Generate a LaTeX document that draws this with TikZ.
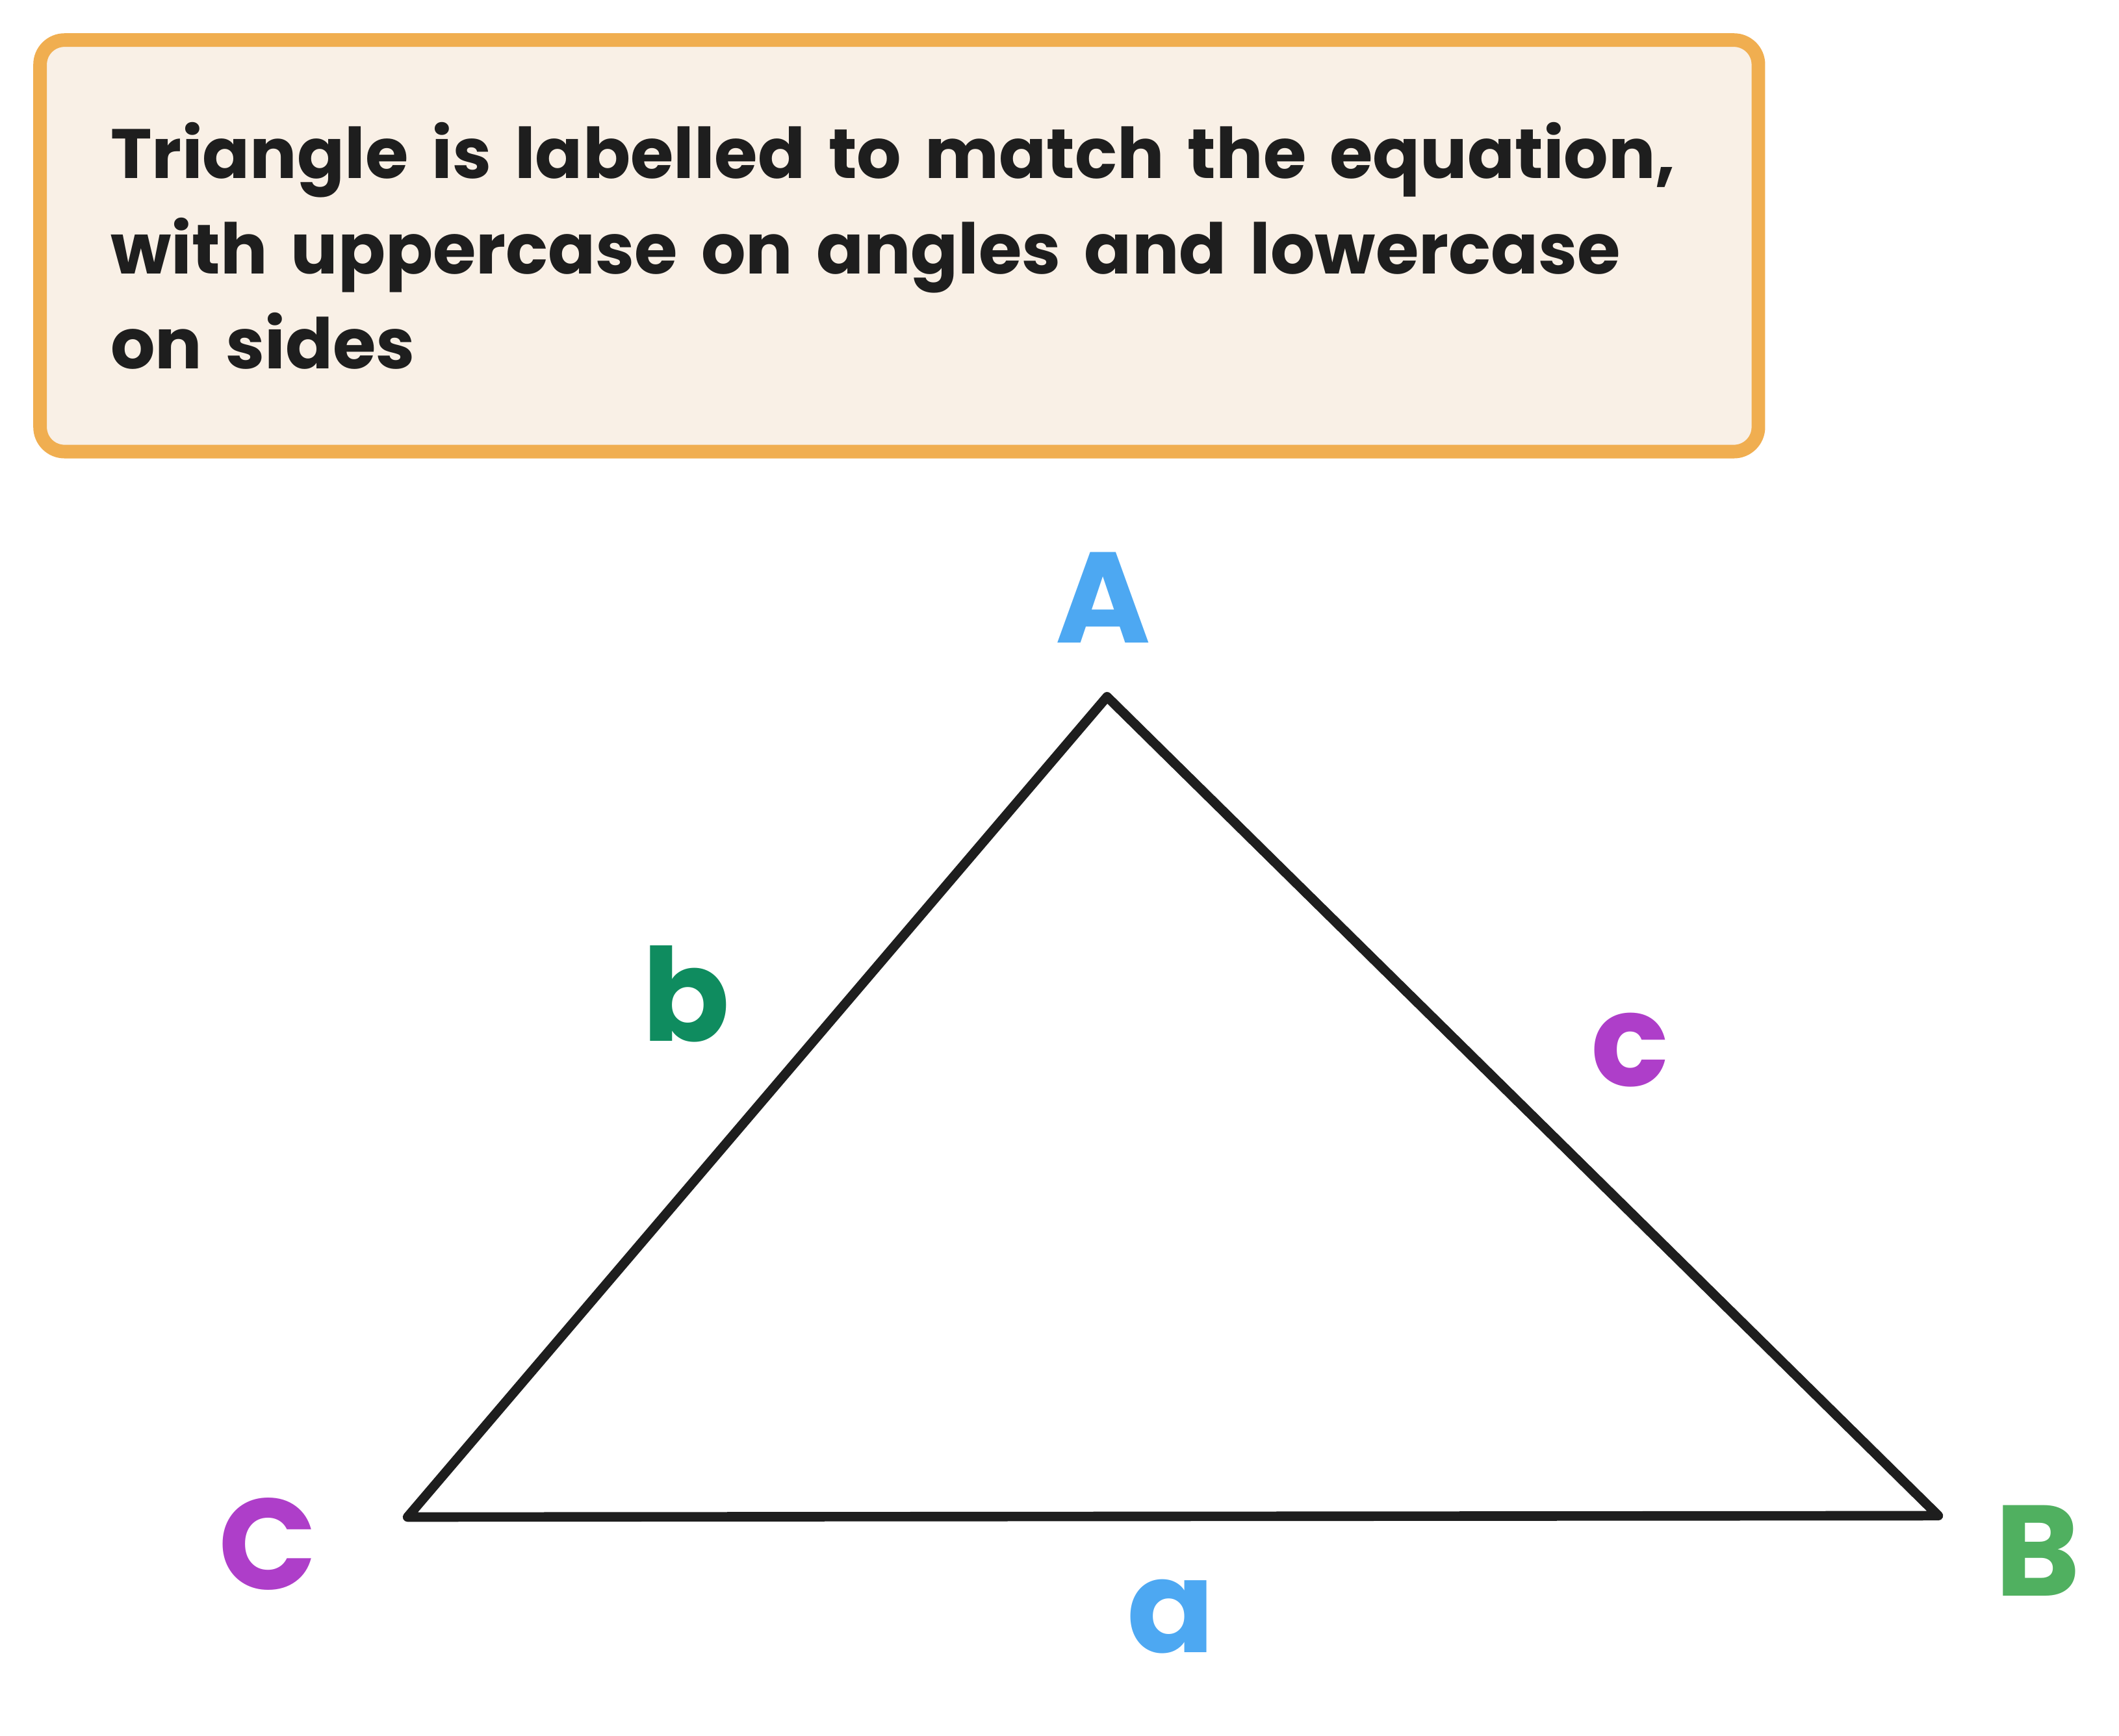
\documentclass[tikz,border=0pt]{standalone}
\usepackage{fontspec}
\setmainfont{Poppins}
\usepackage{tikz}
\usetikzlibrary{positioning}
\usetikzlibrary{calc}
\definecolor{notefill}{RGB}{249,240,230}
\definecolor{noteline}{RGB}{240,174,80}
\definecolor{ink}{RGB}{30,30,30}
\definecolor{angblue}{RGB}{77,168,242}
\definecolor{anggreen}{RGB}{80,176,96}
\definecolor{sidegreen}{RGB}{15,140,95}
\definecolor{purp}{RGB}{174,62,201}

\begin{document}
\begin{tikzpicture}[x=1pt,y=-1pt,line join=round,line cap=round,
	notebox/.style={draw=noteline,fill=notefill,line width=10pt,rounded corners=18pt,minimum width=1265pt,minimum height=303pt,inner sep=0pt,align=left,text width=1161pt,text=ink,font=\fontsize{51.5}{70}\selectfont\bfseries},
	side/.style={draw=ink,line width=7pt},
	lbl/.style={font=\fontsize{95}{95}\selectfont\bfseries}]
	\useasboundingbox (0,0) rectangle (1560,1278);
	\node[notebox]	(note)	at (662,181) {Triangle is labelled to match the equation,\\with uppercase on angles and lowercase\\on sides};
	\coordinate (ptA) at (815,513);
	\coordinate (ptB) at (1427,1116);
	\coordinate (ptC) at (300,1117);
	\draw[side] (ptC) -- (ptA) -- (ptB) -- cycle;
	\node[lbl,text=angblue]	(angA)	at (812,440) {A};
	\node[lbl,text=anggreen]	(angB)	at (1500,1142) {B};
	\node[lbl,text=purp]	(angC)	at (197,1137) {C};
	\node[lbl,text=angblue]	(sidea)	at (862,1190) {a};
	\node[lbl,text=sidegreen]	(sideb)	at (505,732) {b};
	\node[lbl,text=purp]	(sidec)	at (1200,773) {c};
\end{tikzpicture}
\end{document}
